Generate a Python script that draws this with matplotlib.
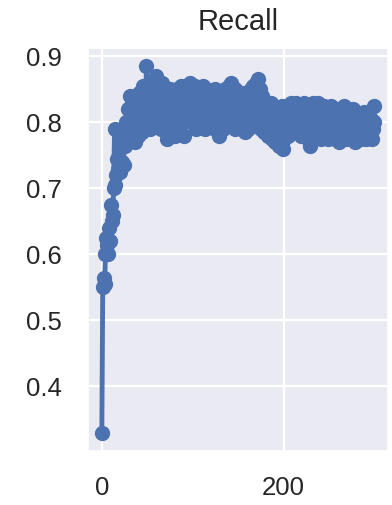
import numpy as np
import matplotlib
matplotlib.use("Agg")
import matplotlib.pyplot as plt
import seaborn as sns
from matplotlib.ticker import MultipleLocator

# recall per epoch
recall_start = [0.33, 0.55, 0.565, 0.555, 0.60, 0.625, 0.615, 0.60, 0.64, 0.62,
                0.675, 0.65, 0.66, 0.70, 0.79, 0.705, 0.72, 0.745, 0.73, 0.76,
                0.725, 0.78, 0.74, 0.77, 0.735, 0.79, 0.765, 0.80, 0.775, 0.82,
                0.785, 0.84, 0.79, 0.83, 0.80, 0.82, 0.77, 0.835, 0.79, 0.81,
                0.78, 0.845, 0.80, 0.83, 0.785, 0.855, 0.81, 0.84, 0.795, 0.885,
                0.82]
recall_mid = [0.80, 0.85, 0.79, 0.83, 0.81, 0.86, 0.795, 0.84, 0.815, 0.87,
              0.80, 0.855, 0.82, 0.845, 0.79, 0.86, 0.83, 0.81, 0.85, 0.80,
              0.84, 0.775, 0.835, 0.81, 0.85, 0.79, 0.825, 0.80, 0.845, 0.78,
              0.83, 0.795, 0.85, 0.81, 0.84, 0.80, 0.855, 0.815, 0.835, 0.78,
              0.84, 0.80, 0.855, 0.82, 0.845, 0.805, 0.86, 0.81, 0.85, 0.80,
              0.84, 0.815, 0.855, 0.79, 0.835, 0.82, 0.85, 0.80, 0.845, 0.81,
              0.855, 0.82, 0.84, 0.79, 0.85, 0.83, 0.81, 0.845, 0.80, 0.835,
              0.80, 0.84, 0.815, 0.85, 0.79, 0.83, 0.805, 0.84, 0.78, 0.82,
              0.80, 0.845, 0.79, 0.835, 0.81, 0.85, 0.80, 0.84, 0.82, 0.855,
              0.81, 0.86, 0.80, 0.845, 0.815, 0.85, 0.79, 0.835, 0.80, 0.84,
              0.795, 0.83, 0.81, 0.845, 0.80, 0.835, 0.785, 0.82, 0.80, 0.84,
              0.79, 0.83, 0.81, 0.85, 0.795, 0.855, 0.80, 0.84, 0.81, 0.86,
              0.80, 0.865, 0.815, 0.85, 0.79, 0.84, 0.80, 0.83, 0.785, 0.82]
recall_end = [0.79, 0.825, 0.78, 0.815, 0.795, 0.83, 0.775, 0.82, 0.79, 0.81,
              0.77, 0.82, 0.785, 0.815, 0.765, 0.81, 0.78, 0.825, 0.76, 0.815,
              0.775, 0.82, 0.79, 0.825, 0.78, 0.815, 0.795, 0.83, 0.785, 0.82,
              0.80, 0.825, 0.79, 0.83, 0.785, 0.82, 0.80, 0.825, 0.78, 0.815,
              0.79, 0.83, 0.78, 0.82, 0.795, 0.825, 0.775, 0.815, 0.765, 0.81,
              0.785, 0.83, 0.775, 0.825, 0.79, 0.82, 0.78, 0.83, 0.785, 0.815,
              0.775, 0.82, 0.79, 0.825, 0.78, 0.81, 0.795, 0.82, 0.775, 0.815,
              0.785, 0.825, 0.78, 0.81, 0.79, 0.82, 0.775, 0.815, 0.785, 0.81,
              0.77, 0.82, 0.79, 0.815, 0.78, 0.825, 0.785, 0.81, 0.775, 0.82,
              0.79, 0.815, 0.78, 0.80, 0.775, 0.82, 0.785, 0.81, 0.77, 0.815,
              0.78, 0.80, 0.785, 0.81, 0.775, 0.805, 0.79, 0.815, 0.78, 0.80,
              0.775, 0.81, 0.785, 0.80, 0.78, 0.805, 0.775, 0.79, 0.825, 0.80]
recall = recall_start + recall_mid + recall_end
epochs = np.arange(len(recall))

y_ticks = [0.4, 0.5, 0.6, 0.7, 0.8, 0.9]

sns.set_theme(style="darkgrid")
plt.rcParams['font.family'] = ['Liberation Sans', 'DejaVu Sans']

fig = plt.figure(figsize=(3.92, 5.05), dpi=100)
ax = fig.add_axes([0.225, 0.107, 0.765, 0.798])

ax.plot(epochs, recall, '-o', color='#4C72B0', linewidth=3.5, markersize=10)
ax.set_title("Recall", fontsize=21, pad=13, color='#262626')

ax.xaxis.set_major_locator(MultipleLocator(200))
ax.set_yticks(y_ticks)
ax.set_xlim(-15, 315)
ax.tick_params(axis='both', labelsize=18.5, labelcolor='#262626', length=0)
ax.tick_params(axis='x', pad=18)
ax.tick_params(axis='y', pad=19)
ax.grid(color='white', linewidth=1.6)

fig.savefig("out.png", dpi=100)
